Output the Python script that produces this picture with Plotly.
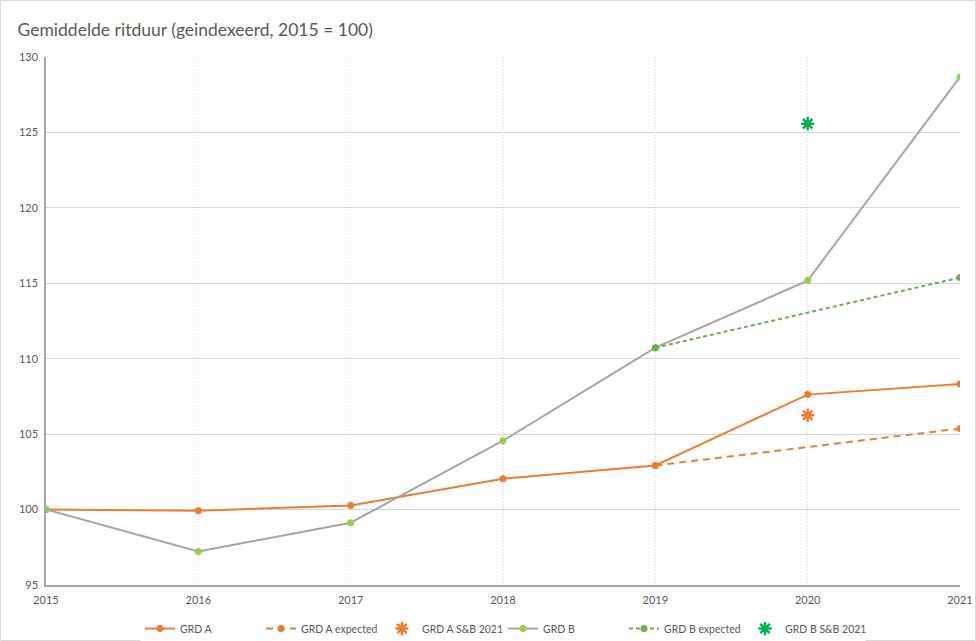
import plotly.graph_objects as go

years = [2015, 2016, 2017, 2018, 2019, 2020, 2021]
grd_a = [100.0, 99.93, 100.27, 102.05, 102.92, 107.62, 108.33]
grd_a_exp_years = [2019, 2021]
grd_a_exp = [102.92, 105.37]
grd_a_sb_years = [2020]
grd_a_sb = [106.25]
grd_b = [100.0, 97.22, 99.13, 104.57, 110.73, 115.18, 128.68]
grd_b_exp_years = [2019, 2021]
grd_b_exp = [110.73, 115.38]
grd_b_sb_years = [2020]
grd_b_sb = [125.58]
y_ticks = [95, 100, 105, 110, 115, 120, 125, 130]

title = "Gemiddelde ritduur (geindexeerd, 2015 = 100)"

ORANGE = "#ED7D31"
GRAY = "#A5A5A5"
LGREEN = "#92D050"
DGREEN = "#70AD47"
SBGREEN = "#00B050"

fig = go.Figure()
fig.add_trace(go.Scatter(x=years, y=grd_a, name="GRD A", mode="lines+markers",
                         line=dict(color=ORANGE, width=2), marker=dict(color=ORANGE, size=7)))
fig.add_trace(go.Scatter(x=grd_a_exp_years, y=grd_a_exp, name="GRD A expected", mode="lines+markers",
                         line=dict(color=ORANGE, width=2, dash="7px,5px"), marker=dict(color=ORANGE, size=7)))
fig.add_trace(go.Scatter(x=grd_a_sb_years, y=grd_a_sb, name="GRD A S&B 2021", mode="markers",
                         marker=dict(symbol="asterisk-open", color=ORANGE, size=11,
                                     line=dict(color=ORANGE, width=2.5))))
fig.add_trace(go.Scatter(x=years, y=grd_b, name="GRD B", mode="lines+markers",
                         line=dict(color=GRAY, width=2), marker=dict(color=LGREEN, size=7)))
fig.add_trace(go.Scatter(x=grd_b_exp_years, y=grd_b_exp, name="GRD B expected", mode="lines+markers",
                         line=dict(color=DGREEN, width=2, dash="4px,3px"), marker=dict(color=DGREEN, size=7)))
fig.add_trace(go.Scatter(x=grd_b_sb_years, y=grd_b_sb, name="GRD B S&B 2021", mode="markers",
                         marker=dict(symbol="asterisk-open", color=SBGREEN, size=11,
                                     line=dict(color=SBGREEN, width=2.5))))

fig.update_layout(
    width=976, height=641,
    paper_bgcolor="white", plot_bgcolor="white",
    margin=dict(l=46, r=16, t=57, b=56, autoexpand=False),
    font=dict(family="Lato, sans-serif", color="#595959", size=11),
    title=dict(text=title, x=0.018, xanchor="left", y=0.953, yanchor="middle",
               font=dict(size=17.5, color="#595959")),
    showlegend=True,
    legend=dict(orientation="h", x=0.5, xanchor="center", y=-0.055, yanchor="top",
                font=dict(size=10.5, color="#595959"), entrywidth=76, itemwidth=30),
    xaxis=dict(range=[2015, 2021], tickmode="array", tickvals=years, ticktext=[str(y) for y in years],
               showgrid=True, gridcolor="#D9D9D9", griddash="1px,2px", gridwidth=1,
               showline=True, linecolor="#A6A6A6", linewidth=1.5, zeroline=False, automargin=False,
               ticks="", tickfont=dict(size=11), ticklabelstandoff=4),
    yaxis=dict(range=[95, 130], tickmode="array", tickvals=y_ticks,
               showgrid=True, gridcolor="#D9D9D9", gridwidth=1,
               showline=True, linecolor="#A6A6A6", linewidth=1.5, zeroline=False, automargin=False,
               ticks="", tickfont=dict(size=11), ticklabelstandoff=4),
    shapes=[dict(type="rect", xref="paper", yref="paper", x0=-45.5/914, x1=1+15.5/914,
                 y0=-55.5/528, y1=1+56.5/528, line=dict(color="#D9D9D9", width=1))],
)

fig.write_html("out.html", config={"displayModeBar": False},
               post_script="document.body.style.margin='0';")
